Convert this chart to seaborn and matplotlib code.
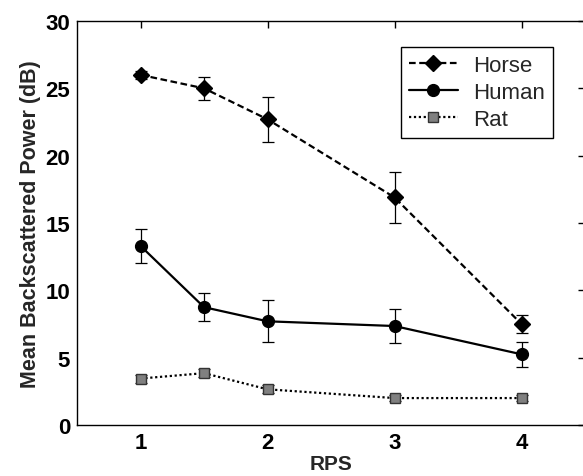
import numpy as np
import pandas as pd
import matplotlib
matplotlib.use("Agg")
import matplotlib.pyplot as plt
from matplotlib.lines import Line2D
import seaborn as sns

rps = [1, 1.5, 2, 3, 4]
horse = [26.0, 25.0, 22.7, 16.9, 7.5]
horse_err = [0.3, 0.85, 1.65, 1.9, 0.7]
human = [13.3, 8.75, 7.7, 7.35, 5.25]
human_err = [1.25, 1.05, 1.57, 1.27, 0.95]
rat = [3.45, 3.85, 2.65, 2.0, 2.0]
rat_err = [0.3, 0.3, 0.3, 0.2, 0.2]
series = ["Horse", "Human", "Rat"]
xticks = [1, 2, 3, 4]
yticks = [0, 5, 10, 15, 20, 25, 30]

sns.set_theme(style="white")
plt.rcParams['font.family'] = ['Liberation Sans', 'DejaVu Sans']
plt.rcParams['font.weight'] = 'bold'

df = pd.DataFrame({
    "RPS": rps * 3,
    "val": horse + human + rat,
    "err": horse_err + human_err + rat_err,
    "species": sum([[s] * len(rps) for s in series], []),
})

fig = plt.figure(figsize=(5.83, 4.77), dpi=100)
ax = fig.add_axes([77 / 583, 51 / 477, 508 / 583, 404 / 477])

# error bars
for vals, errs in [(horse, horse_err), (human, human_err), (rat, rat_err)]:
    ax.errorbar(rps, vals, yerr=errs, fmt="none", ecolor="black", elinewidth=0.9,
                capsize=4.3, capthick=0.9, zorder=2)

sns.lineplot(data=df, x="RPS", y="val", hue="species", style="species",
             palette={"Horse": "black", "Human": "black", "Rat": "black"},
             dashes={"Horse": (3, 1.6), "Human": "", "Rat": (1, 1.2)},
             markers={"Horse": "D", "Human": "o", "Rat": "s"},
             markersize=8, linewidth=1.6, ax=ax, zorder=3, legend=False)

styles = [("black", "black", 8.5), ("black", "black", 8.5), ("#808080", "#333333", 7.5)]
for line, (mfc, mec, ms) in zip(ax.lines[-3:], styles):
    line.set_markerfacecolor(mfc)
    line.set_markeredgecolor(mec)
    line.set_markersize(ms)
    line.set_markeredgewidth(1.0)

handles = [
    Line2D([], [], color="black", linestyle=(0, (3, 1.6)), linewidth=1.6, marker="D",
           markersize=8.5, markerfacecolor="black", markeredgecolor="black"),
    Line2D([], [], color="black", linestyle="-", linewidth=1.6, marker="o",
           markersize=8.5, markerfacecolor="black", markeredgecolor="black"),
    Line2D([], [], color="black", linestyle=(0, (1, 1.2)), linewidth=1.6, marker="s",
           markersize=7.5, markerfacecolor="#808080", markeredgecolor="#333333"),
]
leg = ax.legend(handles, series, loc="upper right", bbox_to_anchor=(0.937, 0.936),
                frameon=True, fancybox=False, edgecolor="black", framealpha=1,
                fontsize=16, handlelength=2.2, handletextpad=0.7, borderpad=0.35,
                labelspacing=0.28, borderaxespad=0.0)
leg.get_frame().set_linewidth(1.0)
for t in leg.get_texts():
    t.set_fontweight("normal")

ax.set_xlim(0.5, 4.5)
ax.set_ylim(0, 30)
ax.set_xticks(xticks)
ax.set_yticks(yticks)
ax.set_xlabel("RPS", fontsize=15, fontweight="bold", labelpad=1)
ax.set_ylabel("Mean Backscattered Power (dB)", fontsize=15.5, fontweight="bold", labelpad=3)
ax.tick_params(direction="in", length=5, width=1, top=True, right=True,
               labelsize=16, colors="black", pad=5)
for lbl in ax.get_xticklabels() + ax.get_yticklabels():
    lbl.set_fontweight("bold")
for sp in ax.spines.values():
    sp.set_color("black")
    sp.set_linewidth(1.0)

fig.savefig("out.png", dpi=100)
